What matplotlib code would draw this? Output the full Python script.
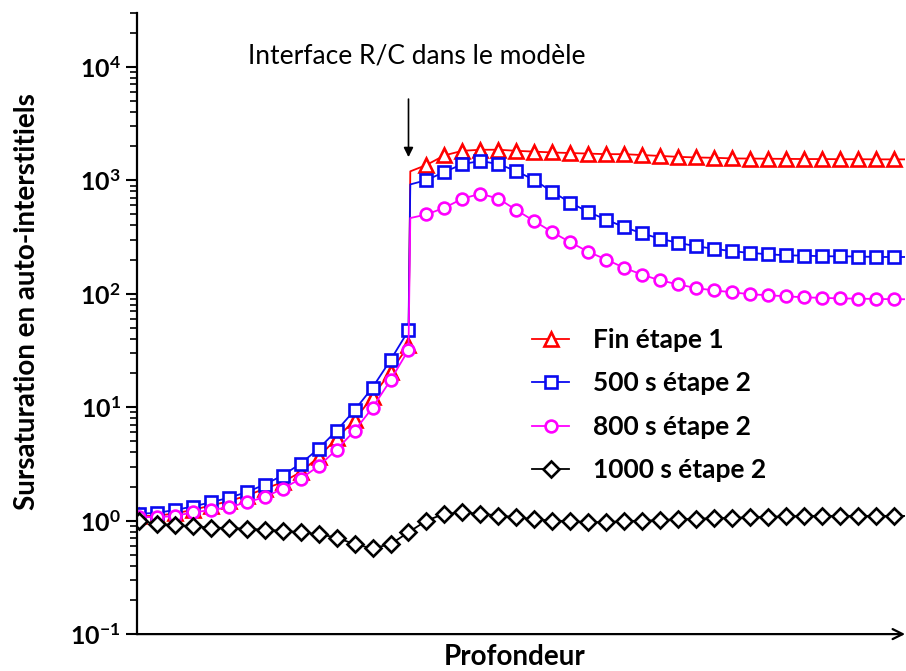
import numpy as np
import matplotlib
matplotlib.use('Agg')
import matplotlib.pyplot as plt
from matplotlib.ticker import LogLocator, NullFormatter, FuncFormatter

# depth index of each marker (interface at index 15)
depth = np.arange(43)
interface = 15

fin_etape1 = [1.1, 1.1, 1.16, 1.24, 1.36, 1.48, 1.66, 1.91, 2.18, 2.68, 3.63, 5.3, 7.7, 12.4, 20.5, 35,
              1366, 1660, 1820, 1860, 1860, 1820, 1790, 1760, 1740, 1720, 1700, 1700, 1670, 1640, 1610,
              1590, 1580, 1560, 1555, 1550, 1545, 1540, 1540, 1535, 1535, 1530, 1530]
s500_etape2 = [1.15, 1.17, 1.24, 1.33, 1.45, 1.59, 1.78, 2.08, 2.5, 3.18, 4.3, 6.2, 9.4, 14.9, 26, 47.5,
               1005, 1185, 1390, 1480, 1390, 1205, 1005, 790, 635, 525, 450, 386, 340, 305, 281,
               262, 249, 237, 229, 223, 218, 217, 214, 214, 213, 211, 211]
s800_etape2 = [1.08, 1.07, 1.1, 1.18, 1.24, 1.31, 1.45, 1.61, 1.91, 2.34, 3.02, 4.22, 6.2, 9.9, 17.3, 32,
               500, 573, 689, 762, 689, 546, 436, 349, 284, 234, 200, 169, 147, 131, 121,
               112, 107, 103, 99, 97, 95, 93, 92, 91, 90.5, 90, 89.5]
s1000_etape2 = [1.0, 0.935, 0.915, 0.89, 0.87, 0.86, 0.85, 0.83, 0.815, 0.79, 0.76, 0.71, 0.62, 0.57, 0.62, 0.79,
                1.0, 1.15, 1.18, 1.15, 1.11, 1.07, 1.03, 1.0, 0.99, 0.97, 0.97, 0.99, 1.0, 1.01, 1.03,
                1.04, 1.05, 1.06, 1.07, 1.08, 1.09, 1.1, 1.1, 1.1, 1.1, 1.1, 1.1]
# value just after the jump at the interface (no marker)
jump_top = {'Fin étape 1': 1200, '500 s étape 2': 920, '800 s étape 2': 465}

series = [
    ('Fin étape 1', fin_etape1, 'red', '^', 10),
    ('500 s étape 2', s500_etape2, '#0a0af0', 's', 8),
    ('800 s étape 2', s800_etape2, '#ff00ff', 'o', 8.5),
    ('1000 s étape 2', s1000_etape2, 'black', 'D', 8),
]

plt.rcParams['font.family'] = ['Lato', 'DejaVu Sans']
plt.rcParams['mathtext.fontset'] = 'custom'
plt.rcParams['mathtext.rm'] = 'Lato:bold'
plt.rcParams['mathtext.bf'] = 'Lato:bold'
plt.rcParams['mathtext.default'] = 'bf'

fig = plt.figure(figsize=(9.06, 6.71), dpi=100)
ax = fig.add_axes([0.151, 0.055, 0.848, 0.926])

for name, vals, color, marker, ms in series:
    x = list(depth)
    y = list(vals)
    if name in jump_top:
        x.insert(interface + 1, interface + 0.1)
        y.insert(interface + 1, jump_top[name])
    # extend the line to the end of the axis
    x.append(43)
    y.append(y[-1])
    marks = [i for i, xv in enumerate(x) if float(xv).is_integer() and xv <= 42]
    ax.plot(x, y, color=color, lw=1.3, marker=marker, ms=ms, mfc='white', mec=color,
            mew=1.9, markevery=marks, label=name)

ax.set_yscale('log')
ax.set_ylim(0.1, 3e4)
ax.set_xlim(-0.1, 42.6)

ax.yaxis.set_major_locator(LogLocator(base=10, numticks=10))
ax.yaxis.set_major_formatter(FuncFormatter(lambda v, p: r'$10^{%d}$' % round(np.log10(v))))
ax.yaxis.set_minor_locator(LogLocator(base=10, subs=np.arange(2, 10), numticks=20))
ax.yaxis.set_minor_formatter(NullFormatter())
ax.tick_params(axis='y', which='major', length=8, width=1.5, labelsize=18, direction='out')
ax.tick_params(axis='y', which='minor', length=5, width=1.2, direction='out')
ax.set_xticks([])

ax.spines['top'].set_visible(False)
ax.spines['right'].set_visible(False)
ax.spines['bottom'].set_visible(False)
ax.spines['left'].set_linewidth(1.6)
ax.annotate('', xy=(1.0, 0), xytext=(0, 0), xycoords='axes fraction',
            arrowprops=dict(arrowstyle='->', lw=1.6, color='black', shrinkA=0, shrinkB=0,
                            mutation_scale=18))

ax.set_ylabel('Sursaturation en auto-interstitiels', fontsize=20, fontweight='bold')
ax.yaxis.set_label_coords(-0.126, 0.535)
ax.set_xlabel('Profondeur', fontsize=20, fontweight='bold')
ax.xaxis.set_label_coords(0.492, -0.016)

ax.annotate('', xy=(interface, 1600), xytext=(interface, 5200),
            arrowprops=dict(arrowstyle='-|>', lw=1.2, color='black', mutation_scale=14,
                            shrinkA=0, shrinkB=0))
ax.text(15.45, 12500, 'Interface R/C dans le modèle', fontsize=19, ha='center', va='center')

leg = ax.legend(loc='upper left', bbox_to_anchor=(0.484, 0.531), frameon=False,
                prop=dict(size=19, weight='bold'), handlelength=1.4, labelspacing=0.74,
                handletextpad=0.9)

fig.savefig('out.png', dpi=100)
